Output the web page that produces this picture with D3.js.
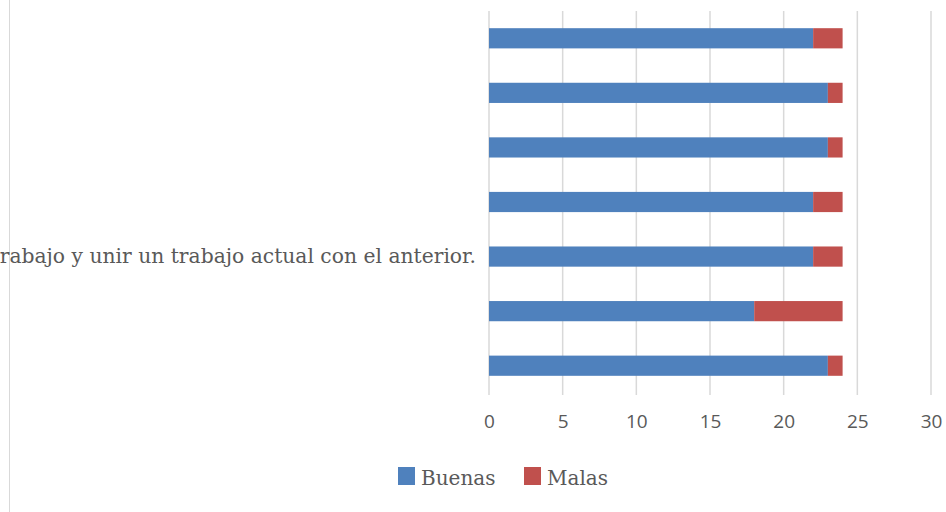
<!DOCTYPE html>
<html><head><meta charset="utf-8">
<script src="https://cdn.jsdelivr.net/npm/d3@7"></script>
<style>html,body{margin:0;padding:0;background:#fff;}svg{display:block;}</style>
</head><body>
<svg id="chart" width="946" height="512"></svg>
<script>
const categories = ["c1","c2","c3","c4","c5","c6","c7"];
const categoryLabels = ["","","","","rabajo y unir un trabajo actual con el anterior.","",""];
const buenas = [22,23,23,22,22,18,23];
const malas  = [2,1,1,2,2,6,1];
const xTicks = [0,5,10,15,20,25,30];
const seriesNames = ["Buenas","Malas"];
const colors = ["#4F81BD","#C0504D"];

const svg = d3.select("#chart");
const x = d3.scaleLinear().domain([0,30]).range([489,931]);
const y = d3.scaleBand().domain(categories).range([11,393]).paddingInner(0.63).paddingOuter(0.315);

// left border
svg.append("line").attr("x1",9.5).attr("x2",9.5).attr("y1",0).attr("y2",512)
  .attr("stroke","#d9d9d9").attr("stroke-width",1);

// gridlines
svg.append("g").selectAll("line").data(xTicks).join("line")
  .attr("x1",d=>x(d)).attr("x2",d=>x(d)).attr("y1",11).attr("y2",395)
  .attr("stroke","#d9d9d9").attr("stroke-width",1.5);

const data = categories.map((c,i)=>({cat:c, b:buenas[i], m:malas[i]}));
const stack = d3.stack().keys(["b","m"])(data);
svg.append("g").selectAll("g").data(stack).join("g")
  .attr("fill",(d,i)=>colors[i])
  .selectAll("rect").data(d=>d).join("rect")
  .attr("x",d=>x(d[0])).attr("width",d=>x(d[1])-x(d[0]))
  .attr("y",d=>y(d.data.cat)).attr("height",y.bandwidth());

// x axis labels
const xAxis = d3.axisBottom(x).tickValues(xTicks).tickSize(0).tickPadding(0);
const gx = svg.append("g").attr("transform","translate(0,414)").call(xAxis);
gx.select(".domain").remove();
gx.selectAll("text").attr("font-family","'Open Sans', 'Liberation Sans', sans-serif")
  .attr("font-size",19).attr("fill","#595959");

// category labels
const yAxis = d3.axisLeft(y).tickFormat((d,i)=>categoryLabels[i]).tickSize(0).tickPadding(0);
const gy = svg.append("g").attr("transform","translate(476,0)").call(yAxis);
gy.select(".domain").remove();
gy.selectAll("text").attr("font-family","'DejaVu Serif', serif")
  .attr("font-size",20.3).attr("fill","#595959");

// legend
const legend = svg.append("g");
const lx = [398, 524];
seriesNames.forEach((n,i)=>{
  legend.append("rect").attr("x",lx[i]).attr("y",467).attr("width",17).attr("height",18).attr("fill",colors[i]);
  legend.append("text").attr("x",lx[i]+23).attr("y",485).text(n)
    .attr("font-family","'DejaVu Serif', serif").attr("font-size",20).attr("fill","#595959");
});
</script>
</body></html>
